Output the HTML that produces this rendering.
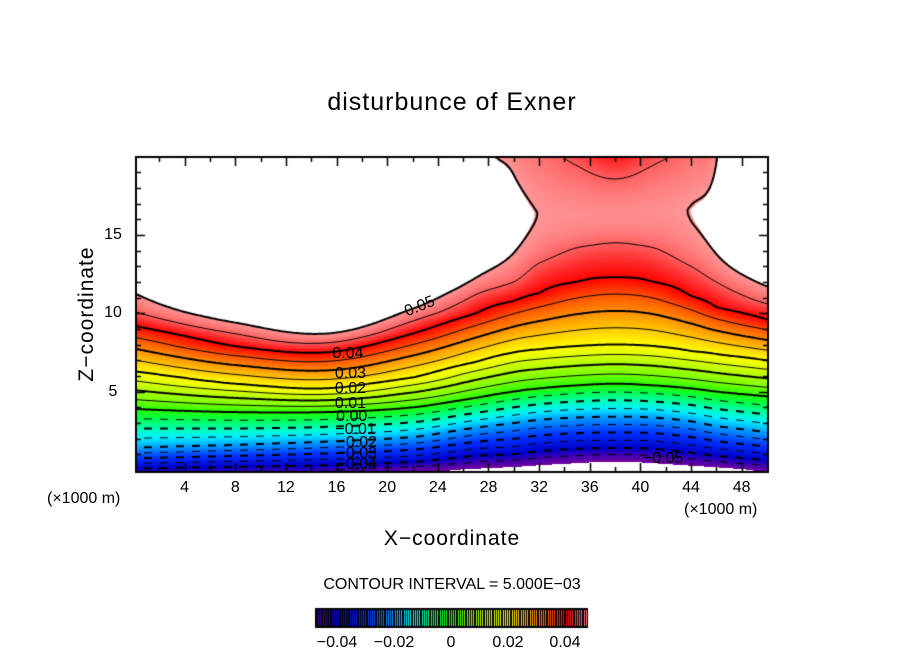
<!DOCTYPE html>
<html><head><meta charset="utf-8">
<style>
html,body{margin:0;padding:0;background:#fff;}
#wrap{position:relative;width:904px;height:654px;overflow:hidden;font-family:"Liberation Sans",sans-serif;}
#cv{position:absolute;left:0;top:0;}
.t{position:absolute;color:#000;white-space:nowrap;}
</style></head>
<body>
<div id="wrap">
<canvas id="cv" width="904" height="654"></canvas>
<div class="t" style="left:0;width:904px;text-align:center;top:88px;font-size:25px;letter-spacing:1px;">disturbunce of Exner</div>
<div class="t" style="left:87px;top:314px;font-size:21px;transform:translate(-50%,-50%) rotate(-90deg);letter-spacing:1px;">Z−coordinate</div>
<div class="t" style="left:0;width:904px;text-align:center;top:527px;font-size:21px;letter-spacing:1px;">X−coordinate</div>
<div class="t" style="left:47px;top:490px;font-size:16px;">(×1000 m)</div>
<div class="t" style="left:684px;top:501px;font-size:16px;">(×1000 m)</div>
<div class="t" style="left:0;width:904px;text-align:center;top:576px;font-size:16px;">CONTOUR INTERVAL = 5.000E−03</div>
<div id="labels"></div>
</div>
<script>
// ---- data ----
const colX   = [0, 8, 15, 22, 27, 30, 32, 35, 38, 41, 44, 46, 50];
const bottomV= [-0.041,-0.043,-0.045,-0.049,-0.0515,-0.053,-0.054,-0.0555,-0.057,-0.0555,-0.054,-0.053,-0.0495];
const levelVals = [-0.04,-0.02,0,0.02,0.04,0.045];
const levelZ = [
 [0.1,1.4,3.9,6.3,9.2,10.1],
 [0.2,1.6,3.7,5.5,7.9,8.7],
 [0.3,1.8,3.7,5.2,7.5,8.1],
 [0.5,2.1,4.0,5.9,8.7,9.5],
 [0.9,2.7,4.6,6.9,10.0,11.2],
 [1.0,3.0,5.0,7.5,10.8,12.0],
 [1.2,3.2,5.2,7.7,11.3,13.2],
 [1.35,3.35,5.4,7.9,12.0,14.2],
 [1.4,3.4,5.5,8.0,12.3,14.5],
 [1.35,3.35,5.4,7.9,12.0,14.2],
 [1.1,3.1,5.2,7.6,11.1,13.0],
 [0.9,2.8,5.0,7.4,10.4,12.0],
 [0.6,2.4,4.7,7.0,9.6,10.6]];
const peakZ = [20,20,20,20,17,16.4,16.4,16.4,16.5,16.6,16.6,16.6,20];
const peakV = [0.086,0.125,0.144,0.111,0.060,0.0525,0.0499,0.0492,0.0490,0.0492,0.0502,0.053,0.087];
const topV  = [0.086,0.125,0.144,0.111,0.056,0.0485,0.0465,0.0440,0.0415,0.0440,0.0465,0.0495,0.087];
const xTicks = [4,8,12,16,20,24,28,32,36,40,44,48];
const zTicks = [5,10,15];
const cbTicks = [-0.04,-0.02,0,0.02,0.04];
const cbTickText = ["−0.04","−0.02","0","0.02","0.04"];
const cLevels = [-0.045,-0.04,-0.035,-0.03,-0.025,-0.02,-0.015,-0.01,-0.005,0,0.005,0.01,0.015,0.02,0.025,0.03,0.035,0.04,0.045,0.05];
const labelText = ["0.05","0.04","0.03","0.02","0.01","0.00","−0.01","−0.02","−0.03","−0.04","−0.05"];
const labelPos  = [[22.6,10.4],[16.9,7.4],[17.1,6.15],[17.1,5.15],[17.1,4.2],[17.2,3.4],[17.5,2.55],[17.6,1.75],[17.6,1.0],[17.6,0.3],[41.8,0.7]];
// ---- axes ----
const L=136,R=768,T=157,B=472;
function X(x){return 134+x*12.66;}
function Y(z){return 470-z*15.67;}
function colProfile(i,z){
  const h=levelZ[i];
  if(z<=h[0]) return bottomV[i]+(levelVals[0]-bottomV[i])*(z/h[0]);
  for(let k=1;k<h.length;k++){ if(z<=h[k]) return levelVals[k-1]+(levelVals[k]-levelVals[k-1])*(z-h[k-1])/(h[k]-h[k-1]); }
  const h5=h[h.length-1];
  if(peakZ[i]>=20) return 0.045+(peakV[i]-0.045)*(z-h5)/(20-h5);
  if(z<=peakZ[i]){const s=(peakZ[i]-z)/(peakZ[i]-h5);return peakV[i]-(peakV[i]-0.045)*s*s;}
  const s=(z-peakZ[i])/(20-peakZ[i]);return peakV[i]-(peakV[i]-topV[i])*Math.pow(s,1.2);
}
function field(x,z){
  const n=colX.length;let i=0; while(i<n-2 && x>colX[i+1]) i++;
  const x0=colX[i],x1=colX[i+1],hgt=x1-x0;const t=Math.max(0,Math.min(1,(x-x0)/hgt));
  const p0=colProfile(i,z),p1=colProfile(i+1,z);
  const pm=i>0?colProfile(i-1,z):null,pp=i+2<n?colProfile(i+2,z):null;
  const m0=pm===null?(p1-p0)/hgt:(p1-pm)/(x1-colX[i-1]);
  const m1=pp===null?(p1-p0)/hgt:(pp-p0)/(colX[i+2]-x0);
  const t2=t*t,t3=t2*t;
  return (2*t3-3*t2+1)*p0+(t3-2*t2+t)*hgt*m0+(-2*t3+3*t2)*p1+(t3-t2)*hgt*m1;
}
const cstops=[[-0.05,[110,0,160]],[-0.045,[60,0,180]],[-0.04,[0,0,200]],[-0.03,[0,50,255]],[-0.02,[0,160,255]],[-0.015,[0,240,255]],[-0.01,[0,255,180]],[-0.005,[0,255,80]],[0,[40,255,0]],[0.005,[120,255,0]],[0.01,[170,255,0]],[0.015,[220,255,0]],[0.02,[255,255,0]],[0.025,[255,200,0]],[0.03,[255,140,0]],[0.035,[255,80,0]],[0.04,[255,0,0]],[0.0425,[255,45,45]],[0.045,[255,95,95]],[0.0475,[255,125,125]],[0.05,[255,150,150]]];
function col(v){
  if(v<-0.0505||v>0.0502) return null;
  if(v<=cstops[0][0]) return cstops[0][1];
  for(let k=1;k<cstops.length;k++){ if(v<=cstops[k][0]){const a=cstops[k-1],b=cstops[k];const t=(v-a[0])/(b[0]-a[0]);return [0,1,2].map(j=>Math.round(a[1][j]+(b[1][j]-a[1][j])*t));}}
  return cstops[cstops.length-1][1];
}
const cv=document.getElementById('cv');const ctx=cv.getContext('2d');
ctx.fillStyle='#fff';ctx.fillRect(0,0,904,654);
const img=ctx.getImageData(0,0,904,654);
for(let py=T;py<B;py++){const z=(470-py-0.5)/15.67;
 for(let px=L;px<R;px++){const x=(px+0.5-134)/12.66;const c=col(field(x,Math.max(0,z)));
  if(c){const o=(py*904+px)*4;img.data[o]=c[0];img.data[o+1]=c[1];img.data[o+2]=c[2];img.data[o+3]=255;}}}
ctx.putImageData(img,0,0);
// contours (marching squares)
const st=2,nx=Math.ceil((R-L)/st),ny=Math.ceil((B-T)/st);
const G=[];for(let j=0;j<=ny;j++){G[j]=[];for(let i=0;i<=nx;i++){const px=L+i*st,py=T+j*st;G[j][i]=field((px-134)/12.66,Math.max(0,(470-py)/15.67));}}
ctx.save();ctx.beginPath();ctx.rect(L,T,R-L,B-T);ctx.clip();ctx.strokeStyle='#000';
cLevels.forEach(lv=>{
 ctx.lineWidth=(Math.abs(Math.round(lv*1000))%10===0)?2:1;
 ctx.beginPath();
 for(let j=0;j<ny;j++)for(let i=0;i<nx;i++){
  const a=G[j][i],b=G[j][i+1],c=G[j+1][i+1],d=G[j+1][i];
  const pts=[];const x0=L+i*st,y0=T+j*st;
  if((a-lv)*(b-lv)<0)pts.push([x0+st*(lv-a)/(b-a),y0]);
  if((b-lv)*(c-lv)<0)pts.push([x0+st,y0+st*(lv-b)/(c-b)]);
  if((d-lv)*(c-lv)<0)pts.push([x0+st*(lv-d)/(c-d),y0+st]);
  if((a-lv)*(d-lv)<0)pts.push([x0,y0+st*(lv-a)/(d-a)]);
  if(pts.length>=2){
   if(lv<0 && Math.floor(x0/8)%2===1) continue;
   ctx.moveTo(pts[0][0],pts[0][1]);ctx.lineTo(pts[1][0],pts[1][1]);
   if(pts.length===4){ctx.moveTo(pts[2][0],pts[2][1]);ctx.lineTo(pts[3][0],pts[3][1]);}
  }}
 ctx.stroke();
});
ctx.restore();
// frame and ticks
ctx.strokeStyle='#000';ctx.lineWidth=2;ctx.strokeRect(L,T,R-L,B-T);ctx.lineWidth=1.5;ctx.beginPath();
for(let x=2;x<50;x+=2){const len=(x%4===0)?9:5;const px=Math.round(X(x))+0.5;ctx.moveTo(px,B);ctx.lineTo(px,B-len);ctx.moveTo(px,T);ctx.lineTo(px,T+len);}
for(let z=1;z<20;z++){const len=(z%5===0)?9:5;const py=Math.round(Y(z))+0.5;ctx.moveTo(L,py);ctx.lineTo(L+len,py);ctx.moveTo(R,py);ctx.lineTo(R-len,py);}
ctx.stroke();
// colorbar
const cbL=315,cbR=588,cbT=608,cbB=628;
function CB(v){return 451+v*2850;}
ctx.fillStyle='#000';ctx.fillRect(cbL,cbT,cbR-cbL,cbB-cbT);
for(let px=cbL+3;px<cbR-2;px+=2.25){const c=col((px-451)/2850);if(c){ctx.fillStyle='rgb('+c.join(',')+')';ctx.fillRect(Math.round(px),cbT+2,1,cbB-cbT-4);}}
const lab=document.getElementById('labels');
function addText(txt,x,y,size,name,extra){const d=document.createElement('div');d.className='t';d.textContent=txt;
 d.style.left=x+'px';d.style.top=y+'px';d.style.fontSize=size+'px';d.style.transform='translate(-50%,-50%)'+(extra||'');
 
 
 lab.appendChild(d);}
xTicks.forEach(v=>addText(String(v),X(v),488,16,'x-tick-label'));
zTicks.forEach(v=>addText(String(v),113,Y(v),16,'y-tick-label'));
cbTicks.forEach((v,k)=>addText(cbTickText[k],CB(v),643,16,'colorbar-tick-label'));
labelText.forEach((t,k)=>addText(t,X(labelPos[k][0]),Y(labelPos[k][1]),16,'contour-label',k===0?' rotate(-22deg)':''));
</script>
</body></html>
